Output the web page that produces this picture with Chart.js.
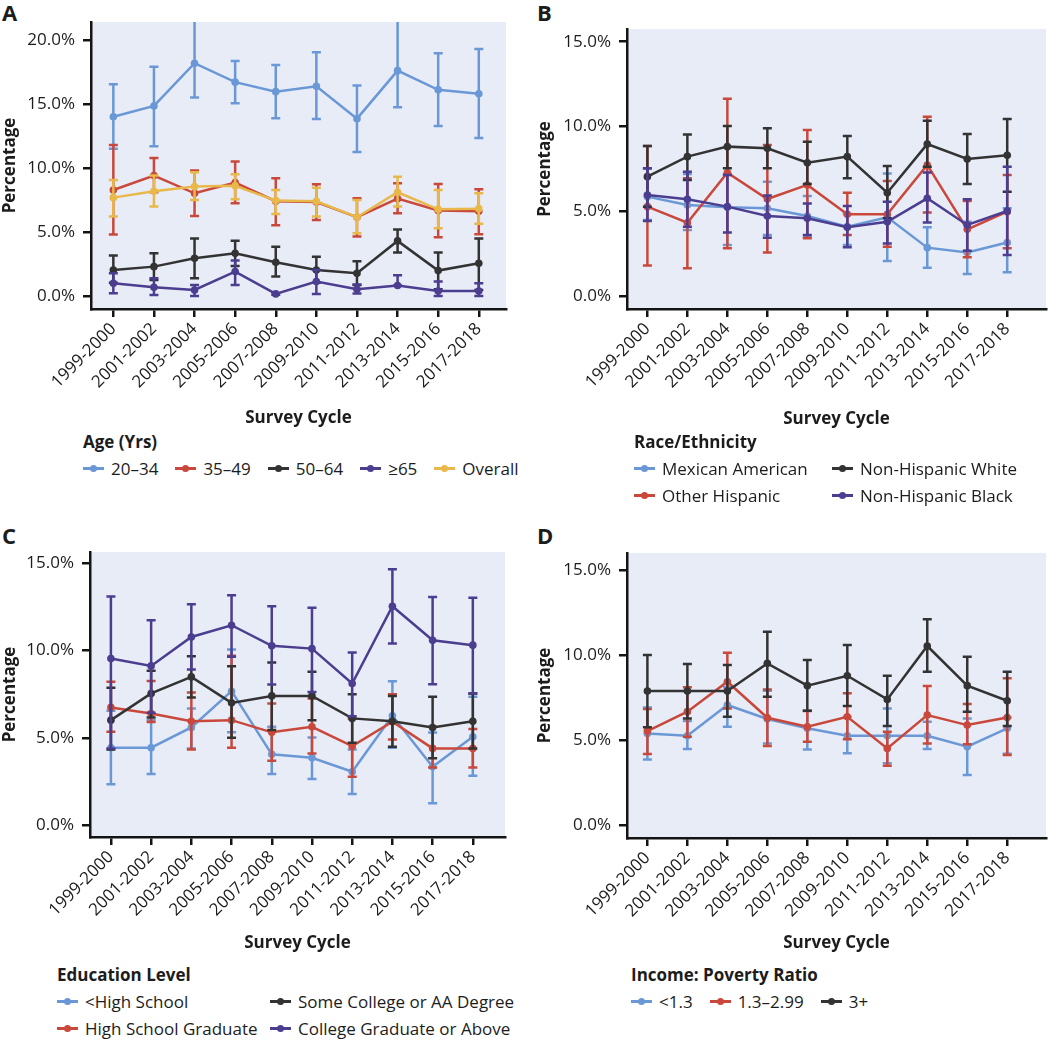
<!DOCTYPE html>
<html>
<head>
<meta charset="utf-8">
<script src="https://cdn.jsdelivr.net/npm/chart.js@4.4.1/dist/chart.umd.min.js"></script>
<style>
  body { margin: 0; width: 1050px; height: 1040px; position: relative; overflow: hidden; background: #fff;
         font-family: "Open Sans", "Noto Sans", sans-serif; color: #1c1c1c; }
  canvas { position: absolute; }
  .tag { position: absolute; font-weight: bold; font-size: 22px; line-height: 22px; }
  .legend { position: absolute; font-size: 17px; line-height: 27px; }
  .legend .ttl { font-weight: bold; height: 27px; }
  .legend .rows { display: flex; column-gap: 17px; }
  .legend .grid2 { display: grid; grid-template-rows: 27px 27px; grid-auto-flow: column; }
  .item { display: flex; align-items: center; height: 27px; white-space: nowrap; }
  .sym { position: relative; width: 21px; height: 3px; margin-right: 7px; flex: none; }
  .sym i { position: absolute; left: 7px; top: -2.5px; width: 7px; height: 7px; border-radius: 50%; background: inherit; }
</style>
</head>
<body>
<div class="tag" style="left:2px;top:1px">A</div>
<div class="tag" style="left:537px;top:1px">B</div>
<div class="tag" style="left:2px;top:524px">C</div>
<div class="tag" style="left:537px;top:524px">D</div>

<canvas id="cA" width="525" height="428" style="left:0;top:0"></canvas>
<canvas id="cB" width="515" height="429" style="left:535px;top:0"></canvas>
<canvas id="cC" width="525" height="433" style="left:0;top:520px"></canvas>
<canvas id="cD" width="515" height="433" style="left:535px;top:520px"></canvas>

<div class="legend" id="lA" style="left:83px;top:428px"></div>
<div class="legend" id="lB" style="left:634px;top:428px"></div>
<div class="legend" id="lC" style="left:57px;top:961px"></div>
<div class="legend" id="lD" style="left:631px;top:961px"></div>

<script>
// survey cycles (x axis)
const cycles = ['1999-2000', '2001-2002', '2003-2004', '2005-2006', '2007-2008',
                '2009-2010', '2011-2012', '2013-2014', '2015-2016', '2017-2018'];

// y tick values
const ticksA = [0, 5, 10, 15, 20];
const ticksBCD = [0, 5, 10, 15];

// A: age (estimate, lower CI, upper CI)
const ageNames = ['20–34', '35–49', '50–64', '≥65', 'Overall'];
const age2034   = [14.0, 14.84, 18.18, 16.7, 15.96, 16.38, 13.85, 17.6, 16.1, 15.8];
const age2034Lo = [11.5, 11.7, 15.5, 15.05, 13.88, 13.83, 11.25, 14.74, 13.28, 12.34];
const age2034Hi = [16.54, 17.9, 21.6, 18.36, 18.05, 19.04, 16.43, 21.6, 18.96, 19.3];
const age3549   = [8.28, 9.4, 8.02, 8.85, 7.4, 7.34, 6.15, 7.6, 6.67, 6.61];
const age3549Lo = [4.8, 8.1, 6.25, 7.24, 5.52, 5.94, 4.64, 6.46, 4.58, 4.82];
const age3549Hi = [11.8, 10.78, 9.8, 10.5, 9.2, 8.72, 7.63, 8.8, 8.75, 8.33];
const age5064   = [2.03, 2.29, 2.94, 3.33, 2.63, 2.03, 1.77, 4.3, 1.98, 2.55];
const age5064Lo = [1.04, 1.25, 1.38, 2.34, 1.51, 1.04, 0.86, 3.39, 0.52, 0.47];
const age5064Hi = [3.15, 3.33, 4.48, 4.32, 3.85, 3.07, 2.71, 5.2, 3.39, 4.48];
const age65     = [0.99, 0.68, 0.47, 1.9, 0.16, 1.12, 0.52, 0.81, 0.39, 0.39];
const age65Lo   = [0.21, 0.08, 0.0, 0.86, 0.1, 0.16, 0.2, 0.81, 0.0, 0.0];
const age65Hi   = [1.77, 1.38, 0.86, 2.76, 0.2, 2.03, 0.9, 1.61, 1.12, 0.99];
const ageAll    = [7.68, 8.18, 8.54, 8.6, 7.45, 7.4, 6.15, 8.1, 6.77, 6.82];
const ageAllLo  = [6.2, 6.98, 7.5, 7.55, 6.4, 6.2, 4.9, 6.98, 5.29, 5.63];
const ageAllHi  = [9.06, 9.4, 9.66, 9.5, 8.28, 8.46, 7.5, 9.32, 8.28, 8.02];

// B: race/ethnicity
const raceNames = ['Mexican American', 'Other Hispanic', 'Non-Hispanic White', 'Non-Hispanic Black'];
const mexAm     = [5.86, 5.37, 5.23, 5.17, 4.72, 4.09, 4.64, 2.85, 2.56, 3.15];
const mexAmLo   = [4.48, 3.89, 3.0, 3.6, 3.5, 3.0, 2.06, 1.67, 1.3, 1.4];
const mexAmHi   = [7.5, 7.2, 7.2, 6.74, 5.9, 4.84, 7.23, 4.05, 4.38, 5.17];
const othHisp   = [5.27, 4.32, 7.27, 5.72, 6.55, 4.82, 4.82, 7.73, 3.93, 4.97];
const othHispLo = [1.79, 1.63, 2.81, 2.56, 3.4, 3.6, 2.91, 4.93, 2.28, 2.81];
const othHispHi = [8.85, 6.94, 11.64, 8.9, 9.79, 6.09, 6.78, 10.58, 5.6, 7.14];
const nhWhite   = [7.04, 8.22, 8.81, 8.71, 7.86, 8.22, 6.09, 8.96, 8.08, 8.3];
const nhWhiteLo = [5.27, 6.84, 7.53, 7.53, 6.6, 6.94, 4.58, 7.63, 6.6, 6.15];
const nhWhiteHi = [8.85, 9.53, 10.03, 9.89, 9.1, 9.44, 7.67, 10.34, 9.55, 10.44];
const nhBlack   = [5.96, 5.7, 5.27, 4.72, 4.58, 4.05, 4.38, 5.76, 4.19, 5.01];
const nhBlackLo = [4.42, 4.09, 3.75, 3.44, 3.6, 2.87, 3.1, 4.34, 2.67, 2.42];
const nhBlackHi = [7.53, 7.33, 7.14, 5.92, 5.46, 5.31, 5.56, 7.29, 5.7, 7.63];

// C: education level
const eduNames = ['<High School', 'High School Graduate', 'Some College or AA Degree', 'College Graduate or Above'];
const ltHs      = [4.43, 4.43, 5.59, 7.67, 4.05, 3.85, 3.05, 6.26, 3.34, 5.06];
const ltHsLo    = [2.33, 2.92, 4.39, 5.31, 2.92, 2.63, 1.77, 4.43, 1.24, 2.82];
const ltHsHi    = [6.55, 6.01, 6.68, 10.06, 5.63, 5.02, 4.33, 8.24, 5.3, 7.35];
const hsGrad    = [6.74, 6.39, 5.95, 6.01, 5.31, 5.63, 4.52, 5.92, 4.39, 4.39];
const hsGradLo  = [5.34, 5.9, 4.33, 4.43, 3.68, 4.1, 2.77, 4.9, 3.3, 3.3];
const hsGradHi  = [8.21, 8.26, 7.6, 9.7, 6.97, 7.25, 6.1, 7.5, 5.63, 5.5];
const someCol   = [6.01, 7.54, 8.49, 7.0, 7.4, 7.4, 6.11, 5.95, 5.59, 5.95];
const someColLo = [4.33, 6.16, 7.31, 5.0, 5.44, 6.01, 4.71, 4.48, 3.82, 4.39];
const someColHi = [7.86, 8.84, 9.68, 9.1, 9.31, 8.78, 7.5, 7.4, 7.35, 7.54];
const colGrad   = [9.54, 9.12, 10.78, 11.45, 10.27, 10.11, 8.11, 12.54, 10.59, 10.31];
const colGradLo = [4.39, 6.43, 8.91, 9.64, 8.05, 7.63, 6.24, 10.4, 8.07, 7.54];
const colGradHi = [13.1, 11.74, 12.65, 13.17, 12.54, 12.46, 9.89, 14.66, 13.07, 13.03];

// D: income to poverty ratio
const incNames = ['<1.3', '1.3–2.99', '3+'];
const incLow    = [5.39, 5.25, 7.06, 6.24, 5.69, 5.25, 5.25, 5.25, 4.61, 5.69];
const incLowLo  = [3.86, 4.47, 5.78, 4.8, 4.45, 4.22, 3.63, 4.47, 2.94, 4.2];
const incLowHi  = [6.92, 6.12, 8.1, 7.9, 6.72, 6.37, 6.86, 6.08, 6.27, 6.33];
const incMid    = [5.53, 6.67, 8.43, 6.31, 5.78, 6.37, 4.51, 6.47, 5.88, 6.33];
const incMidLo  = [4.18, 5.2, 6.86, 4.65, 4.9, 5.04, 3.49, 4.8, 4.75, 4.12];
const incMidHi  = [6.82, 8.1, 10.14, 7.98, 6.71, 7.75, 5.49, 8.18, 7.12, 8.63];
const incHigh   = [7.88, 7.88, 7.88, 9.51, 8.2, 8.78, 7.39, 10.53, 8.2, 7.31];
const incHighLo = [5.75, 6.27, 6.37, 7.55, 6.73, 7.0, 5.82, 9.02, 6.67, 5.82];
const incHighHi = [10.0, 9.47, 9.41, 11.37, 9.71, 10.59, 8.78, 12.1, 9.9, 9.02];

const BLUE = '#6a98d6', RED = '#c9483b', DARK = '#333333', PURPLE = '#4b3d8f', YELLOW = '#e8b84a';
const FONT = '"Open Sans", "Noto Sans", sans-serif';

const panelBg = {
  id: 'panelBg',
  beforeDraw(chart) {
    const {ctx, chartArea: a} = chart;
    ctx.save();
    ctx.fillStyle = '#e8ecf7';
    ctx.fillRect(a.left, a.top, a.right - a.left, a.bottom - a.top);
    ctx.restore();
  }
};

// 95% CI whiskers, drawn just under each series
const errorBars = {
  id: 'errorBars',
  beforeDatasetDraw(chart, args) {
    const ds = chart.data.datasets[args.index];
    if (!ds.lo) return;
    const xs = chart.scales.x, ys = chart.scales.y, ctx = chart.ctx, a = chart.chartArea;
    ctx.save();
    ctx.beginPath();
    ctx.rect(a.left, a.top, a.right - a.left, a.bottom - a.top);
    ctx.clip();
    ctx.strokeStyle = ds.borderColor;
    ctx.lineWidth = 2.5;
    ds.lo.forEach(function(lo, i) {
      const px = xs.getPixelForValue(i);
      const y1 = ys.getPixelForValue(lo), y2 = ys.getPixelForValue(ds.hi[i]);
      ctx.beginPath();
      ctx.moveTo(px, y1); ctx.lineTo(px, y2);
      ctx.moveTo(px - 4.5, y1); ctx.lineTo(px + 4.5, y1);
      ctx.moveTo(px - 4.5, y2); ctx.lineTo(px + 4.5, y2);
      ctx.stroke();
    });
    ctx.restore();
  }
};

function series(label, color, vals, lo, hi, n) {
  return {
    label: label,
    data: vals.map(function(v, i) { return {x: i, y: v}; }),
    lo: lo, hi: hi,
    order: n,
    borderColor: color, backgroundColor: color,
    borderWidth: 2.5, pointRadius: 3.8, pointBorderWidth: 0,
    pointBackgroundColor: color, tension: 0
  };
}

function axisBase() {
  return {
    grid: {drawOnChartArea: false, drawTicks: true, tickLength: 8, color: '#141414', lineWidth: 2.5},
    border: {display: true, color: '#141414', width: 2.5}
  };
}

function makePanel(id, sets, yMin, yMax, yTicks, xMin, xMax, yW, xH, pad) {
  const x = axisBase(), y = axisBase();
  Object.assign(x, {
    type: 'linear', min: xMin, max: xMax,
    afterBuildTicks: function(s) { s.ticks = cycles.map(function(c, i) { return {value: i}; }); },
    afterFit: function(s) { s.height = xH; },
    ticks: {autoSkip: false, minRotation: 45, maxRotation: 45, padding: 2, color: '#1c1c1c',
            font: {family: FONT, size: 17}, callback: function(v) { return cycles[v]; }},
    title: {display: true, text: 'Survey Cycle', color: '#1c1c1c', padding: 0,
            font: {family: FONT, size: 17, weight: 'bold'}}
  });
  Object.assign(y, {
    type: 'linear', min: yMin, max: yMax,
    afterBuildTicks: function(s) { s.ticks = yTicks.map(function(v) { return {value: v}; }); },
    afterFit: function(s) { s.width = yW; },
    ticks: {padding: 8, color: '#1c1c1c', font: {family: FONT, size: 17},
            callback: function(v) { return v.toFixed(1) + '%'; }},
    title: {display: true, text: 'Percentage', color: '#1c1c1c', padding: 0,
            font: {family: FONT, size: 17, weight: 'bold'}}
  });
  return new Chart(document.getElementById(id), {
    type: 'line',
    data: {datasets: sets},
    options: {
      responsive: false, animation: false, devicePixelRatio: 1,
      layout: {padding: pad},
      plugins: {legend: {display: false}, tooltip: {enabled: false}},
      scales: {x: x, y: y}
    },
    plugins: [panelBg, errorBars]
  });
}

function makeLegend(id, title, names, colors, twoRows) {
  const el = document.getElementById(id);
  const t = document.createElement('div');
  t.className = 'ttl';
  t.textContent = title;
  el.appendChild(t);
  const box = document.createElement('div');
  box.className = twoRows ? 'grid2' : 'rows';
  if (twoRows) box.style.gridTemplateColumns = twoRows + 'px auto';
  names.forEach(function(n, i) {
    const it = document.createElement('div');
    it.className = 'item';
    const s = document.createElement('span');
    s.className = 'sym';
    s.style.background = colors[i];
    s.appendChild(document.createElement('i'));
    it.appendChild(s);
    it.appendChild(document.createTextNode(n));
    box.appendChild(it);
  });
  el.appendChild(box);
}

makePanel('cA', [
  series(ageNames[0], BLUE, age2034, age2034Lo, age2034Hi, 5),
  series(ageNames[1], RED, age3549, age3549Lo, age3549Hi, 4),
  series(ageNames[2], DARK, age5064, age5064Lo, age5064Hi, 3),
  series(ageNames[3], PURPLE, age65, age65Lo, age65Hi, 2),
  series(ageNames[4], YELLOW, ageAll, ageAllLo, ageAllHi, 1)
], -1.02, 21.4, ticksA, -0.55, 9.67, 91, 119, {left: 0, top: 22, right: 19, bottom: 0});

makePanel('cB', [
  series(raceNames[0], BLUE, mexAm, mexAmLo, mexAmHi, 4),
  series(raceNames[1], RED, othHisp, othHispLo, othHispHi, 3),
  series(raceNames[2], DARK, nhWhite, nhWhiteLo, nhWhiteHi, 2),
  series(raceNames[3], PURPLE, nhBlack, nhBlackLo, nhBlackHi, 1)
], -0.77, 15.75, ticksBCD, -0.51, 9.97, 92, 120, {left: 0, top: 29, right: 1, bottom: 0});

makePanel('cC', [
  series(eduNames[0], BLUE, ltHs, ltHsLo, ltHsHi, 4),
  series(eduNames[1], RED, hsGrad, hsGradLo, hsGradHi, 3),
  series(eduNames[2], DARK, someCol, someColLo, someColHi, 2),
  series(eduNames[3], PURPLE, colGrad, colGradLo, colGradHi, 1)
], -0.69, 15.65, ticksBCD, -0.52, 9.8, 90, 116, {left: 0, top: 32, right: 20, bottom: 0});

makePanel('cD', [
  series(incNames[0], BLUE, incLow, incLowLo, incLowHi, 3),
  series(incNames[1], RED, incMid, incMidLo, incMidHi, 2),
  series(incNames[2], DARK, incHigh, incHighLo, incHighHi, 1)
], -0.76, 16.0, ticksBCD, -0.51, 9.97, 92, 115, {left: 0, top: 33, right: 1, bottom: 0});

makeLegend('lA', 'Age (Yrs)', ageNames, [BLUE, RED, DARK, PURPLE, YELLOW]);
makeLegend('lB', 'Race/Ethnicity', raceNames, [BLUE, RED, DARK, PURPLE], 198);
makeLegend('lC', 'Education Level', eduNames, [BLUE, RED, DARK, PURPLE], 213);
makeLegend('lD', 'Income: Poverty Ratio', incNames, [BLUE, RED, DARK], null);
</script>
</body>
</html>
